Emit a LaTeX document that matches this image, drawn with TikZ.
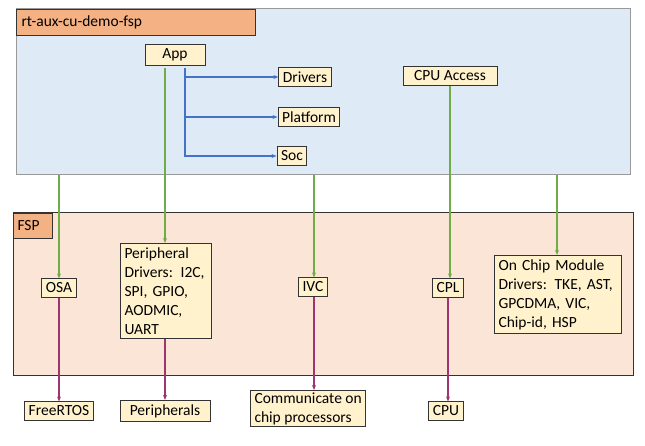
\documentclass[tikz,border=0pt]{standalone}
\usepackage{fontspec}
\setmainfont{Carlito}
\usetikzlibrary{arrows.meta,positioning}
\definecolor{panelblue}{HTML}{DEEBF7}
\definecolor{panelpeach}{HTML}{FBE5D6}
\definecolor{tagorange}{HTML}{F4B183}
\definecolor{boxyellow}{HTML}{FFF2CC}
\definecolor{linkgreen}{HTML}{70AD47}
\definecolor{linkblue}{HTML}{4472C4}
\definecolor{linkpurple}{HTML}{9E3470}
\tikzset{
    blk/.style = {draw=black!80, fill=boxyellow, line width=1pt, inner sep=4pt,
        font=\fontsize{15.5}{19}\selectfont},
    tag/.style = {draw=black!80, fill=tagorange, line width=1pt, anchor=north west,
        inner sep=0pt, font=\fontsize{15.5}{19}\selectfont},
    uses/.style = {draw=linkgreen, line width=1.4pt, -{Stealth[length=5pt,width=4pt]}},
    calls/.style = {draw=linkblue, line width=1.4pt, -{Stealth[length=5pt,width=4pt]}},
    runs/.style = {draw=linkpurple, line width=1.4pt, -{Stealth[length=5pt,width=4pt]}},
}
\begin{document}
\begin{tikzpicture}[x=1pt,y=-1pt]
\useasboundingbox (0,0) rectangle (645,446);

% panels
\filldraw[fill=panelblue, draw=black!40, line width=1pt] (16,9) rectangle (630,175);
\node[tag, minimum width=239pt, minimum height=26pt, text width=229pt, align=left] (apptag) at (16,9) {rt-aux-cu-demo-fsp};
\filldraw[fill=panelpeach, draw=black!80, line width=1pt] (13,213) rectangle (633,375);
\node[tag, minimum width=39pt, minimum height=25pt, text width=31pt, align=left] (fsptag) at (13,213) {FSP};

% application layer
\node[blk, minimum width=60pt] (app) at (175,55) {App};
\node[blk] (drv) at (305,77) {Drivers};
\node[blk] (plat) at (309,117) {Platform};
\node[blk] (soc) at (292,156) {Soc};
\node[blk, minimum width=94pt] (cpuacc) at (450,76) {CPU Access};

% fsp layer
\node[blk] (osa) at (59,288) {OSA};
\node[blk, text width=83pt, align=left, anchor=north west] (periph) at (120,243)
    {Peripheral Drivers: I2C, SPI, GPIO, AODMIC, UART};
\node[blk] (ivc) at (313,287) {IVC};
\node[blk] (cpl) at (448,288) {CPL};
\node[blk, text width=119pt, align=left, anchor=north west] (onchip) at (494,255)
    {On Chip Module Drivers: TKE, AST, GPCDMA, VIC, Chip-id, HSP};

% hardware
\node[blk] (rtos) at (59,411) {FreeRTOS};
\node[blk, minimum width=90pt, align=left] (perhw) at (165,411) {Peripherals};
\node[blk, align=left, anchor=north west, inner ysep=2pt] (comm) at (250,390) {Communicate on\\chip processors};
\node[blk] (cpu) at (446,411) {CPU};

% links
\coordinate (br) at (185,68);
\draw[calls] (br) |- (drv);
\draw[calls] (br) |- (plat);
\draw[calls] (br) |- (soc);

\coordinate (b1) at (59,175);
\coordinate (b2) at (314,175);
\coordinate (b3) at (557,175);
\coordinate (a1) at (165,68);
\draw[uses] (b1) -- (osa);
\draw[uses] (a1) -- (a1 |- periph.north);
\draw[uses] (b2) -- (ivc.north -| b2);
\draw[uses] (cpuacc) -- (cpuacc |- cpl.north);
\draw[uses] (b3) -- (b3 |- onchip.north);

\draw[runs] (osa) -- (rtos);
\draw[runs] (periph.south -| perhw) -- (perhw);
\draw[runs] (ivc.south -| b2) -- (comm.north -| b2);
\draw[runs] (cpl) -- (cpl |- cpu.north);
\end{tikzpicture}
\end{document}
